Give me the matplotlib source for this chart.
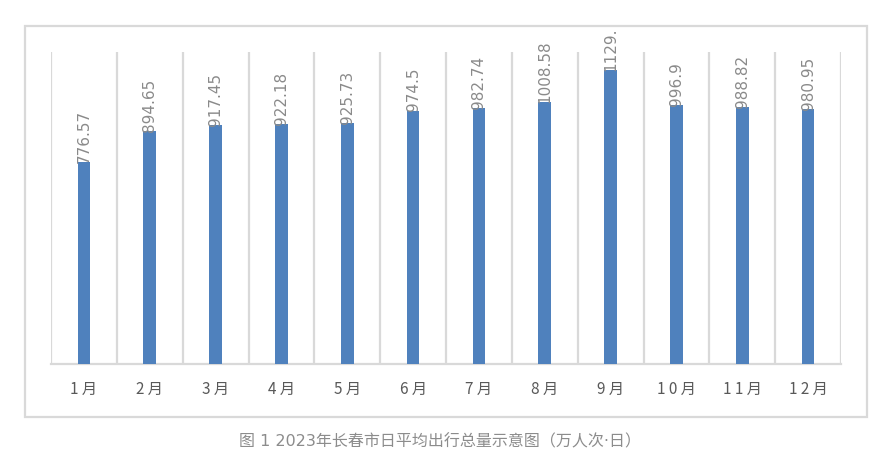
import matplotlib
matplotlib.use("Agg")
import matplotlib.pyplot as plt
from matplotlib.patches import Rectangle
from matplotlib.transforms import Bbox, TransformedBbox

months = ["1月", "2月", "3月", "4月", "5月", "6月", "7月", "8月", "9月", "10月", "11月", "12月"]
values = [776.57, 894.65, 917.45, 922.18, 925.73, 974.5, 982.74, 1008.58, 1129.06, 996.9, 988.82, 980.95]
value_labels = ["776.57", "894.65", "917.45", "922.18", "925.73", "974.5", "982.74", "1008.58", "1129.06", "996.9", "988.82", "980.95"]
caption = "图 1 2023年长春市日平均出行总量示意图（万人次·日）"

W, H = 888, 462
fig = plt.figure(figsize=(W / 100, H / 100), dpi=100)
fig.patch.set_facecolor("white")

grid_c = "#d9d9d9"
# outer chart border
fig.patches.append(Rectangle((25 / W, 1 - 417 / H), (867 - 25) / W, (417 - 26) / H,
                             transform=fig.transFigure, fill=False, edgecolor=grid_c, linewidth=1.6))

ax = fig.add_axes([51 / W, 1 - 364 / H, (841 - 51) / W, (364 - 52) / H])
x = list(range(len(months)))
ax.bar(x, values, width=0.19, color="#4f81bd", zorder=3)
ax.set_xlim(-0.5, len(months) - 0.5)
ax.set_ylim(0, 1200)
for s in ["top", "right", "left"]:
    ax.spines[s].set_visible(False)
ax.spines["bottom"].set_color(grid_c)
ax.spines["bottom"].set_linewidth(1.6)
ax.set_yticks([])
ax.set_xticks([i - 0.5 for i in range(len(months) + 1)], minor=True)
ax.grid(True, axis="x", which="minor", color=grid_c, linewidth=1.6, zorder=0)
ax.tick_params(axis="x", which="minor", length=0)
ax.set_xticks(x)
spaced = [" ".join(list(m)) for m in months]
ax.set_xticklabels(spaced, family=["Noto Sans CJK SC", "DejaVu Sans"], fontsize=11, color="#595959")
ax.tick_params(axis="x", which="major", length=0, pad=12)

clip = TransformedBbox(Bbox([[0, 0], [1, 1 - 30 / H]]), fig.transFigure)
for xi, v, lab in zip(x, values, value_labels):
    t = ax.text(xi, v - 3, lab, rotation=90, ha="center", va="bottom",
                fontsize=11, color="#8a8a8a", family="DejaVu Sans", zorder=4)
    t.set_clip_box(clip)
    t.set_clip_on(True)

fig.text(440 / W, 1 - 442 / H, caption, ha="center", va="center", fontsize=11.5,
         color="#8c8c8c", family=["DejaVu Sans", "Noto Sans CJK SC"])

fig.savefig("out.png", dpi=100)
